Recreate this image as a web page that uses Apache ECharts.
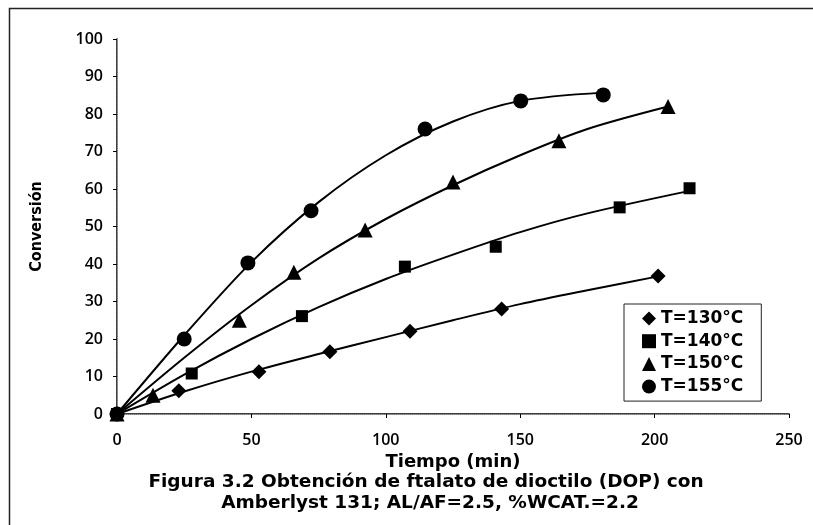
<!DOCTYPE html>
<html>
<head>
<meta charset="utf-8">
<script src="https://cdn.jsdelivr.net/npm/echarts@6/dist/echarts.min.js"></script>
<style>
  html, body { margin: 0; padding: 0; background: #fff; }
  #chart { width: 813px; height: 525px; }
</style>
</head>
<body>
<div id="chart"></div>
<script>
// series labels and legend icons
const seriesNames = ['T=130°C', 'T=140°C', 'T=150°C', 'T=155°C'];
const seriesIcons = ['diamond', 'rect', 'triangle', 'circle'];

// measured points (time in min, conversion in %)
const time130 = [0, 23, 52.8, 79.2, 109, 143.1, 201.3];
const conv130 = [0, 6.2, 11.3, 16.6, 22.1, 28, 36.8];
const time140 = [0, 27.8, 68.8, 107.1, 140.9, 187, 213];
const conv140 = [0, 10.8, 26.1, 39.3, 44.6, 55.1, 60.2];
const time150 = [0, 13.4, 45.5, 65.8, 92.3, 125, 164.4, 205];
const conv150 = [0, 5, 25, 37.8, 49.1, 61.9, 72.9, 82];
const time155 = [0, 25, 48.7, 72.2, 114.6, 150.2, 180.9];
const conv155 = [0, 20, 40.3, 54.2, 76, 83.5, 85.1];

// trend lines
const fitTime130 = [0, 25, 50, 75, 100, 125, 150, 175, 201.3];
const fitConv130 = [0, 6, 11.3, 16, 20.5, 25, 29.3, 33, 36.7];
const fitTime140 = [0, 25, 50, 75, 100, 125, 150, 175, 213];
const fitConv140 = [0, 10.5, 20, 28.5, 36, 42.5, 48.5, 53.5, 59.5];
const fitTime150 = [0, 25, 50, 75, 100, 125, 150, 175, 205];
const fitConv150 = [0, 15, 29, 41.5, 52, 61, 69, 76, 82];
const fitTime155 = [0, 25, 50, 75, 100, 125, 150, 180.9];
const fitConv155 = [0, 21, 40.5, 56.5, 69, 78, 83.5, 85.7];

// axis ticks
const xTicks = { min: 0, max: 250, interval: 50 };
const yTicks = { min: 0, max: 100, interval: 10 };

const zip = (xs, ys) => xs.map((x, i) => [x, ys[i]]);

const points = [
  zip(time130, conv130),
  zip(time140, conv140),
  zip(time150, conv150),
  zip(time155, conv155)
];
const curves = [
  zip(fitTime130, fitConv130),
  zip(fitTime140, fitConv140),
  zip(fitTime150, fitConv150),
  zip(fitTime155, fitConv155)
];
const markerSizes = [15, 12, 15, 15];

const tickFont = {
  fontFamily: 'Open Sans',
  fontWeight: 600,
  fontSize: 16,
  color: '#000'
};
const captionFont = {
  fontFamily: 'DejaVu Sans',
  fontWeight: 'bold',
  fontSize: 18.5,
  fill: '#000'
};

const chart = echarts.init(document.getElementById('chart'));

const lineSeries = curves.map((data, i) => ({
  name: seriesNames[i],
  type: 'line',
  data,
  smooth: 0.3,
  showSymbol: false,
  symbol: 'none',
  itemStyle: { color: '#000' },
  lineStyle: { color: '#000', width: 2 },
  z: 2
}));

const markerSeries = points.map((data, i) => ({
  name: seriesNames[i],
  type: 'scatter',
  data,
  symbol: seriesIcons[i],
  symbolSize: markerSizes[i],
  itemStyle: { color: '#000', opacity: 1 },
  z: 3
}));

chart.setOption({
  animation: false,
  backgroundColor: '#fff',
  color: ['#000'],
  grid: { left: 117, right: 24, top: 39, bottom: 111, containLabel: false },
  xAxis: [
    {
      type: 'value',
      ...xTicks,
      name: 'Tiempo (min)',
      nameLocation: 'middle',
      nameGap: 39,
      nameTextStyle: {
        fontFamily: 'DejaVu Sans',
        fontWeight: 'bold',
        fontSize: 18,
        color: '#000'
      },
      axisLine: { show: true, onZero: false, lineStyle: { color: '#000', width: 1.5 } },
      axisTick: { show: true, length: 4, lineStyle: { color: '#000' } },
      axisLabel: { ...tickFont, margin: 18 },
      splitLine: { show: false }
    },
    {
      type: 'value',
      ...xTicks,
      position: 'top',
      axisLine: { show: true, lineStyle: { color: '#999', type: 'dotted', width: 1 } },
      axisTick: { show: false },
      axisLabel: { show: false },
      splitLine: { show: false }
    }
  ],
  yAxis: [
    {
      type: 'value',
      ...yTicks,
      name: 'Conversión',
      nameLocation: 'middle',
      nameGap: 72,
      nameTextStyle: {
        fontFamily: "'Liberation Sans Narrow', 'DejaVu Sans Condensed', sans-serif",
        fontWeight: 'bold',
        fontSize: 16,
        color: '#000'
      },
      axisLine: { show: true, onZero: false, lineStyle: { color: '#000', width: 1.5 } },
      axisTick: { show: true, length: 4, lineStyle: { color: '#000' } },
      axisLabel: { ...tickFont, margin: 14 },
      splitLine: { show: false }
    },
    {
      type: 'value',
      ...yTicks,
      position: 'right',
      axisLine: { show: true, lineStyle: { color: '#999', type: 'dotted', width: 1 } },
      axisTick: { show: false },
      axisLabel: { show: false },
      splitLine: { show: false }
    }
  ],
  legend: {
    orient: 'vertical',
    left: 624,
    top: 304,
    selectedMode: false,
    data: seriesNames.map((name, i) => ({ name, icon: seriesIcons[i] })),
    itemWidth: 14,
    itemHeight: 14,
    itemGap: 5.7,
    itemStyle: { color: '#000' },
    padding: [6, 18, 6, 18],
    borderColor: '#222',
    borderWidth: 1,
    backgroundColor: '#fff',
    textStyle: {
      fontFamily: 'DejaVu Sans',
      fontWeight: 'bold',
      fontSize: 17,
      color: '#000'
    }
  },
  graphic: [
    {
      type: 'rect',
      silent: true,
      shape: { x: 9.5, y: 8.5, width: 900, height: 600 },
      style: { fill: 'none', stroke: '#222', lineWidth: 1.5 }
    },
    {
      type: 'text',
      x: 426,
      y: 482,
      style: {
        ...captionFont,
        text: 'Figura 3.2 Obtención de ftalato de dioctilo (DOP) con',
        textAlign: 'center',
        textVerticalAlign: 'middle'
      }
    },
    {
      type: 'text',
      x: 430,
      y: 503,
      style: {
        ...captionFont,
        text: 'Amberlyst 131; AL/AF=2.5, %WCAT.=2.2',
        textAlign: 'center',
        textVerticalAlign: 'middle'
      }
    }
  ],
  series: [...lineSeries, ...markerSeries]
});
</script>
</body>
</html>
